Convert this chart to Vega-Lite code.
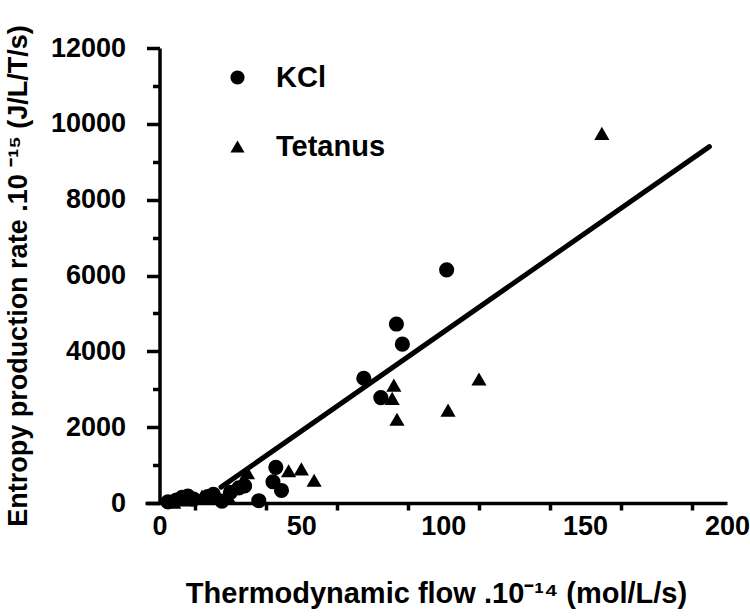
{
  "$schema": "https://vega.github.io/schema/vega-lite/v6.json",
  "width": 582,
  "height": 455,
  "autosize": {"type": "none"},
  "padding": {"left": 145, "top": 48, "right": 23, "bottom": 113},
  "background": "white",
  "config": {"view": {"stroke": null}, "font": "Liberation Sans"},
  "datasets": {
    "points": [
      {"group": "KCl", "flow": 3, "rate": 30},
      {"group": "KCl", "flow": 6, "rate": 80},
      {"group": "KCl", "flow": 8, "rate": 150},
      {"group": "KCl", "flow": 10, "rate": 180},
      {"group": "KCl", "flow": 12, "rate": 100},
      {"group": "KCl", "flow": 17, "rate": 170},
      {"group": "KCl", "flow": 19, "rate": 230},
      {"group": "KCl", "flow": 22, "rate": 50},
      {"group": "KCl", "flow": 25, "rate": 280},
      {"group": "KCl", "flow": 28, "rate": 400},
      {"group": "KCl", "flow": 30, "rate": 450},
      {"group": "KCl", "flow": 35, "rate": 60},
      {"group": "KCl", "flow": 40, "rate": 560},
      {"group": "KCl", "flow": 41, "rate": 940},
      {"group": "KCl", "flow": 43, "rate": 330},
      {"group": "KCl", "flow": 72, "rate": 3290},
      {"group": "KCl", "flow": 78, "rate": 2780},
      {"group": "KCl", "flow": 83.5, "rate": 4720},
      {"group": "KCl", "flow": 85.6, "rate": 4190},
      {"group": "KCl", "flow": 101.2, "rate": 6150},
      {"group": "Tetanus", "flow": 5, "rate": 20},
      {"group": "Tetanus", "flow": 9, "rate": 80},
      {"group": "Tetanus", "flow": 15, "rate": 180},
      {"group": "Tetanus", "flow": 20, "rate": 160},
      {"group": "Tetanus", "flow": 24, "rate": 200},
      {"group": "Tetanus", "flow": 27, "rate": 420},
      {"group": "Tetanus", "flow": 29, "rate": 550},
      {"group": "Tetanus", "flow": 31, "rate": 800},
      {"group": "Tetanus", "flow": 45.5, "rate": 850},
      {"group": "Tetanus", "flow": 50, "rate": 900},
      {"group": "Tetanus", "flow": 54.5, "rate": 600},
      {"group": "Tetanus", "flow": 82, "rate": 2760},
      {"group": "Tetanus", "flow": 82.6, "rate": 3110},
      {"group": "Tetanus", "flow": 83.7, "rate": 2210},
      {"group": "Tetanus", "flow": 101.7, "rate": 2450},
      {"group": "Tetanus", "flow": 112.6, "rate": 3270},
      {"group": "Tetanus", "flow": 155.9, "rate": 9750}
    ],
    "fit": [
      {"flow": 21.7, "rate": 420},
      {"flow": 193.8, "rate": 9400}
    ]
  },
  "encoding": {
    "x": {
      "field": "flow",
      "type": "quantitative",
      "scale": {"domain": [-5.1, 200], "nice": false, "zero": false},
      "axis": {
        "title": "Thermodynamic flow .10⁻¹⁴ (mol/L/s)",
        "values": [0, 12.5, 37.5, 50, 62.5, 87.5, 100, 112.5, 137.5, 150, 162.5, 187.5, 200],
        "labelExpr": "datum.value % 50 == 0 ? datum.label : ''",
        "labelOverlap": false,
        "labelFlush": false,
        "grid": false,
        "domainColor": "black",
        "domainWidth": 3.5,
        "tickColor": "black",
        "tickWidth": 3.5,
        "tickSize": 7,
        "tickOpacity": {"condition": {"test": "datum.value % 50 == 0", "value": 0}, "value": 1},
        "labelPadding": 3,
        "labelFontSize": 27,
        "labelFontWeight": "bold",
        "labelColor": "black",
        "titleFontSize": 29,
        "titleFontWeight": "bold",
        "titleColor": "black",
        "titlePadding": 40
      }
    },
    "y": {
      "field": "rate",
      "type": "quantitative",
      "scale": {"domain": [0, 12000], "nice": false},
      "axis": {
        "title": "Entropy production rate .10 ⁻¹⁵ (J/L/T/s)",
        "values": [0, 1000, 2000, 3000, 4000, 5000, 6000, 7000, 8000, 9000, 10000, 11000, 12000],
        "labelExpr": "datum.value % 2000 == 0 ? datum.label : ''",
        "format": "d",
        "offset": -14.5,
        "labelOverlap": false,
        "labelFlush": false,
        "grid": false,
        "domainColor": "black",
        "domainWidth": 3.5,
        "tickColor": "black",
        "tickWidth": 3.5,
        "tickSize": {"condition": {"test": "datum.value % 2000 == 0", "value": 13}, "value": 7},
        "labelPadding": 21,
        "labelFontSize": 27,
        "labelFontWeight": "bold",
        "labelColor": "black",
        "titleFontSize": 27,
        "titleFontWeight": "bold",
        "titleColor": "black",
        "titlePadding": 18
      }
    }
  },
  "layer": [
    {
      "data": {"name": "fit"},
      "mark": {"type": "line", "color": "black", "strokeWidth": 5, "strokeCap": "round"}
    },
    {
      "data": {"name": "points"},
      "mark": {"type": "point", "filled": true, "opacity": 1, "size": 230},
      "encoding": {
        "color": {"value": "black"},
        "shape": {
          "field": "group",
          "type": "nominal",
          "scale": {"domain": ["KCl", "Tetanus"], "range": ["circle", "triangle-up"]},
          "legend": {
            "orient": "none",
            "legendX": 78,
            "legendY": 15,
            "title": null,
            "padding": 0,
            "labelFontSize": 29,
            "labelFontWeight": "bold",
            "labelColor": "black",
            "symbolSize": 200,
            "symbolFillColor": "black",
            "symbolStrokeColor": "black",
            "symbolStrokeWidth": 0,
            "rowPadding": 39,
            "labelOffset": 24
          }
        }
      }
    }
  ]
}
